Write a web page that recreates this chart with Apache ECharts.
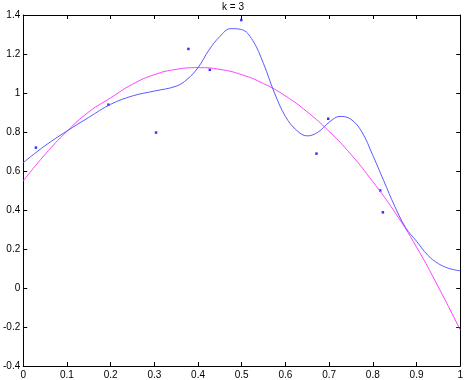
<!DOCTYPE html>
<html>
<head>
<meta charset="utf-8">
<script src="https://cdn.jsdelivr.net/npm/echarts@6/dist/echarts.min.js"></script>
<style>
  html, body { margin: 0; padding: 0; background: #fff; }
  #chart { width: 466px; height: 380px; }
</style>
</head>
<body>
<div id="chart"></div>
<script>
// sample points (blue dots)
var pointX = [0.029, 0.195, 0.304, 0.378, 0.427, 0.499, 0.671, 0.698, 0.817, 0.823];
var pointY = [0.72, 0.94, 0.797, 1.226, 1.119, 1.374, 0.689, 0.868, 0.50, 0.388];

// kernel fit (blue curve)
var fitX = [0, 0.05, 0.1, 0.15, 0.2, 0.25, 0.3, 0.35, 0.375, 0.4, 0.425, 0.45, 0.475, 0.5,
  0.525, 0.55, 0.575, 0.6, 0.625, 0.65, 0.675, 0.7, 0.725, 0.75, 0.775, 0.8, 0.825,
  0.85, 0.875, 0.9, 0.925, 0.95, 0.975, 1.0];
var fitY = [0.643, 0.73, 0.805, 0.875, 0.942, 0.985, 1.01, 1.035, 1.07, 1.13, 1.22, 1.29, 1.33, 1.325,
  1.27, 1.15, 1.0, 0.88, 0.81, 0.78, 0.80, 0.85, 0.88, 0.865, 0.80, 0.68, 0.55,
  0.42, 0.31, 0.24, 0.17, 0.125, 0.10, 0.088];

// polynomial fit (magenta curve)
var polyX = [0, 0.05, 0.1, 0.15, 0.2, 0.25, 0.3, 0.35, 0.4, 0.45, 0.5, 0.55, 0.6, 0.65, 0.7,
  0.75, 0.8, 0.85, 0.9, 0.95, 1.0];
var polyY = [0.549, 0.685, 0.803, 0.903, 0.975, 1.045, 1.094, 1.121, 1.13, 1.121, 1.094, 1.048,
  0.985, 0.903, 0.803, 0.685, 0.545, 0.39, 0.21, 0.005, -0.215];

var xTicks = [0, 0.1, 0.2, 0.3, 0.4, 0.5, 0.6, 0.7, 0.8, 0.9, 1];
var titleText = 'k = 3';

function pairs(xs, ys) {
  return xs.map(function (x, i) { return [x, ys[i]]; });
}

var chart = echarts.init(document.getElementById('chart'));
var labelFont = { fontFamily: 'Liberation Sans', fontSize: 10, color: '#000' };
var axisLine = { show: true, onZero: false, lineStyle: { color: '#000', width: 1 } };
var tick = { show: true, inside: true, length: 4, lineStyle: { color: '#000' } };

chart.setOption({
  animation: false,
  title: {
    text: titleText,
    left: 'center',
    top: -3,
    textStyle: { fontFamily: 'Liberation Sans', fontSize: 10, fontWeight: 'normal', color: '#000' }
  },
  grid: { left: 17, right: 2, top: 15, bottom: 13, containLabel: false },
  xAxis: [{
    type: 'value', min: 0, max: 1, interval: 0.1,
    axisLine: axisLine, axisTick: tick, splitLine: { show: false },
    axisLabel: Object.assign({ margin: 4, formatter: function (v) { return String(+v.toFixed(1)); } }, labelFont)
  }, {
    type: 'value', min: 0, max: 1, interval: 0.1, position: 'top',
    axisLine: axisLine, axisTick: tick, splitLine: { show: false }, axisLabel: { show: false }
  }],
  yAxis: [{
    type: 'value', min: -0.4, max: 1.4, interval: 0.2,
    axisLine: axisLine, axisTick: tick, splitLine: { show: false },
    axisLabel: Object.assign({ margin: 3, formatter: function (v) { return String(+v.toFixed(1)); } }, labelFont)
  }, {
    type: 'value', min: -0.4, max: 1.4, interval: 0.2, position: 'right',
    axisLine: axisLine, axisTick: tick, splitLine: { show: false }, axisLabel: { show: false }
  }],
  series: [{
    type: 'line',
    data: pairs(polyX, polyY),
    smooth: true,
    showSymbol: false,
    lineStyle: { color: '#ff40ff', width: 1 }
  }, {
    type: 'line',
    data: pairs(fitX, fitY),
    smooth: 0.4,
    showSymbol: false,
    lineStyle: { color: '#5a5aff', width: 1 }
  }, {
    type: 'scatter',
    data: pairs(pointX, pointY),
    symbol: 'rect',
    symbolSize: 2.5,
    itemStyle: { color: '#0000ff' }
  }]
});
</script>
</body>
</html>
